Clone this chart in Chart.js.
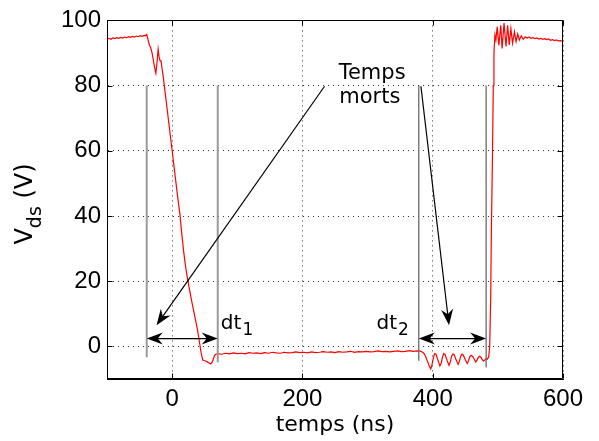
<!DOCTYPE html>
<html><head><meta charset="utf-8">
<script src="https://cdn.jsdelivr.net/npm/chart.js@4.4.1/dist/chart.umd.min.js"></script>
<style>html,body{margin:0;padding:0;background:#fff}canvas{display:block}</style>
</head><body>
<canvas id="c" width="599" height="441"></canvas>
<script>
// ---- data (time in ns, Vds in volts) ----
const timeNs = [
 -100,-97,-94,-91,-88,-85,-82,-79,-76,-73,-70,-67,-64,-61,-58,-55,-52,-49,-46,-43,-41,-39,
 -37,-35,-33,-31,-29,-27,-25,-23.5,-21.5,-20,-18.5,-17,-15.5,-14,-12,-9,-6,-3,0,3,6,9,12,14,16,18,20,22,24,27,30,33,36,39,42,44.5,47,50,53,56,59,61,63,65,67,
 70,76,82,88,94,100,106,112,118,124,130,136,142,148,154,160,166,172,178,184,190,196,202,208,214,220,226,232,238,244,250,256,262,268,274,280,286,292,298,304,310,316,322,328,334,340,346,352,358,364,370,376,382,
 386,389,392,395,397,399,401,403,405,408,411,413,415,417,419,422,425,427,429,431,433,436,439,441,443,445,447,450,453,455,457,459,461,464,466,468,470,472,474,476,478,480,482,484,486,
 487.5,489,490,491.5,493,494,495.5,497,499,501.5,504.5,506.5,509.5,512.5,515,517.5,520,522.5,525.5,528,530.5,533,536,539,542,
 545,548,551,554,557,560,563,566,569,572,575,578,581,584,587,590,593,596,600
];
const vdsVolts = [
 94.3,94.5,94.2,94.6,94.4,94.7,94.5,94.8,94.6,94.9,94.7,95.0,94.8,95.1,94.9,95.2,95.0,95.3,95.1,95.4,95.3,95.7,
 94.0,92.5,91.6,90.2,88.0,85.6,83.8,86.5,91.1,88.8,87.6,87.6,85.2,83.3,80.0,75.0,70.0,65.0,60.0,55.0,50.0,45.0,40.5,36.2,32.2,28.6,25.4,22.7,20.3,17.0,13.9,11.0,8.0,5.0,1.2,-2.0,-4.2,-4.4,-4.6,-5.0,-5.4,-5.0,-4.0,-2.8,-2.4,
 -2.2,-2.4,-2.1,-2.3,-2.0,-2.2,-2.1,-2.3,-1.9,-2.1,-2.0,-2.2,-1.9,-2.1,-1.8,-2.0,-2.1,-1.8,-2.0,-1.9,-1.7,-1.9,-1.8,-2.0,-1.7,-1.9,-1.8,-1.6,-1.8,-1.7,-1.9,-1.6,-1.8,-1.7,-1.5,-1.8,-1.6,-1.7,-1.5,-1.7,-1.6,-1.4,-1.6,-1.5,-1.7,-1.5,-1.4,-1.6,-1.5,-1.3,-1.5,-1.4,-1.5,
 -2.0,-3.0,-4.6,-6.2,-6.9,-5.5,-3.5,-2.2,-2.4,-4.2,-6.0,-5.2,-3.2,-2.2,-2.5,-4.3,-5.8,-4.8,-3.0,-2.3,-2.6,-4.2,-5.5,-4.6,-3.0,-2.4,-2.7,-4.1,-5.2,-4.4,-3.1,-2.7,-3.0,-4.0,-4.8,-4.2,-3.3,-3.0,-3.3,-4.1,-4.5,-4.2,-3.7,-3.9,-3.2,
 0.0,15,35,55,80,90,95.5,94.0,98.0,92.4,98.5,91.4,99.2,92.0,98.5,92.5,97.5,93.0,96.5,93.5,95.8,94.0,95.3,94.2,95.0,
 94.6,94.9,94.5,94.7,94.4,94.6,94.3,94.5,94.2,94.4,94.1,94.3,93.9,94.1,93.8,94.0,93.7,93.8,93.6
];
const xTickValues = [0, 200, 400, 600];
const yTickValues = [0, 20, 40, 60, 80, 100];

// dead-time markers (ns) and the voltage range of each marker line
const markerTimes   = [-39, 70, 378.6, 482];
const markerBottoms = [-3.3, -4.9, -4.4, -6.5];
const markerTop = 80;
// double arrows spanning each dead time
const deadTimeStarts = [-39, 378.6];
const deadTimeEnds   = [70, 482];
const deadTimeLevel  = 2.4;
const deadTimeLabels = ['1', '2'];
// pointer arrows from the "Temps morts" note (data coordinates)
const pointerFrom = [[234, 79.8], [381.9, 79.8]];
const pointerTo   = [[-24, 6.5], [425, 6.5]];

const points = timeNs.map((t, i) => ({x: t, y: vdsVolts[i]}));

function arrowHead(ctx, tx, ty, fx, fy, L, W) {
  const dx = tx - fx, dy = ty - fy, d = Math.hypot(dx, dy);
  const ux = dx / d, uy = dy / d, nx = -uy, ny = ux;
  ctx.beginPath();
  ctx.moveTo(tx, ty);
  ctx.lineTo(tx - L * ux + W * nx, ty - L * uy + W * ny);
  ctx.lineTo(tx - (L - 5) * ux, ty - (L - 5) * uy);
  ctx.lineTo(tx - L * ux - W * nx, ty - L * uy - W * ny);
  ctx.closePath();
  ctx.fill();
}

const annotate = {
  id: 'annotate',
  afterDatasetsDraw(chart) {
    const ctx = chart.ctx, xs = chart.scales.x, ys = chart.scales.y;
    ctx.save();
    markerTimes.forEach((t, i) => {
      const px = xs.getPixelForValue(t);
      ctx.strokeStyle = i < 2 ? '#9a9a9a' : '#6a6a6a';
      ctx.lineWidth = i < 2 ? 2 : 1.3;
      ctx.beginPath();
      ctx.moveTo(px, ys.getPixelForValue(markerTop));
      ctx.lineTo(px, ys.getPixelForValue(markerBottoms[i]));
      ctx.stroke();
    });
    ctx.strokeStyle = '#000'; ctx.fillStyle = '#000'; ctx.lineWidth = 1.2;
    deadTimeStarts.forEach((s, i) => {
      const x1 = xs.getPixelForValue(s), x2 = xs.getPixelForValue(deadTimeEnds[i]);
      const y = ys.getPixelForValue(deadTimeLevel);
      ctx.beginPath(); ctx.moveTo(x1 + 8, y); ctx.lineTo(x2 - 8, y); ctx.stroke();
      arrowHead(ctx, x1, y, x2, y, 16, 6);
      arrowHead(ctx, x2, y, x1, y, 16, 6);
    });
    pointerFrom.forEach((f, i) => {
      const fx = xs.getPixelForValue(f[0]), fy = ys.getPixelForValue(f[1]);
      const tx = xs.getPixelForValue(pointerTo[i][0]), ty = ys.getPixelForValue(pointerTo[i][1]);
      const d = Math.hypot(tx - fx, ty - fy);
      ctx.beginPath(); ctx.moveTo(fx, fy);
      ctx.lineTo(tx - (tx - fx) / d * 10, ty - (ty - fy) / d * 10); ctx.stroke();
      arrowHead(ctx, tx, ty, fx, fy, 16, 6);
    });
    ctx.textBaseline = 'alphabetic';
    ctx.font = '21px "DejaVu Sans"'; ctx.textAlign = 'center';
    ctx.fillText('Temps', xs.getPixelForValue(307), ys.getPixelForValue(82));
    ctx.fillText('morts', xs.getPixelForValue(303.5), ys.getPixelForValue(74.7));
    ctx.textAlign = 'left';
    const labelStarts = [74.8, 313.6];
    labelStarts.forEach((t, i) => {
      const px = xs.getPixelForValue(t), py = ys.getPixelForValue(5.25);
      ctx.font = '20px "DejaVu Sans"';
      ctx.fillText('dt', px, py);
      const w = ctx.measureText('dt').width;
      ctx.font = '17px "DejaVu Sans"';
      ctx.fillText(deadTimeLabels[i], px + w + 1, py + 6);
    });
    ctx.restore();
  },
  afterDraw(chart) {
    const ctx = chart.ctx, a = chart.chartArea, xs = chart.scales.x, ys = chart.scales.y;
    ctx.save();
    ctx.strokeStyle = '#000'; ctx.lineWidth = 1;
    const L = Math.round(a.left) + 0.5, R = Math.round(a.right) - 0.5;
    const T = Math.round(a.top) + 0.5, B = Math.round(a.bottom) - 0.5;
    ctx.beginPath(); ctx.rect(L, T, R - L, B - T); ctx.stroke();
    ctx.beginPath();
    xTickValues.forEach(v => {
      const p = Math.round(xs.getPixelForValue(v)) + 0.5;
      ctx.moveTo(p, B); ctx.lineTo(p, B - 5);
      ctx.moveTo(p, T); ctx.lineTo(p, T + 5);
    });
    yTickValues.forEach(v => {
      const p = Math.round(ys.getPixelForValue(v)) + 0.5;
      ctx.moveTo(L, p); ctx.lineTo(L + 5, p);
      ctx.moveTo(R, p); ctx.lineTo(R - 5, p);
    });
    ctx.stroke();
    // y-axis title with subscript
    ctx.translate(32, 204);
    ctx.rotate(-Math.PI / 2);
    ctx.fillStyle = '#000'; ctx.textAlign = 'left'; ctx.textBaseline = 'alphabetic';
    const big = '24px "DejaVu Sans"', small = '19px "DejaVu Sans"';
    ctx.font = big; const wV = ctx.measureText('V').width; const wU = ctx.measureText(' (V)').width;
    ctx.font = small; const wds = ctx.measureText('ds').width;
    let x = -(wV + wds + wU) / 2;
    ctx.font = big; ctx.fillText('V', x, 0); x += wV;
    ctx.font = small; ctx.fillText('ds', x, 9); x += wds;
    ctx.font = big; ctx.fillText(' (V)', x, 0);
    ctx.restore();
  }
};

new Chart(document.getElementById('c'), {
  type: 'scatter',
  data: { datasets: [{
    data: points, showLine: true, borderColor: '#ff0000', borderWidth: 1.2,
    pointRadius: 0, tension: 0, fill: false
  }]},
  options: {
    responsive: false, animation: false, devicePixelRatio: 1,
    layout: { padding: { top: 17, right: 36, left: 0, bottom: 0 } },
    plugins: { legend: { display: false }, tooltip: { enabled: false } },
    scales: {
      x: {
        type: 'linear', min: -100, max: 600,
        afterBuildTicks: s => { s.ticks = xTickValues.map(v => ({ value: v })); },
        afterFit: s => { s.height = 62; },
        grid: { color: '#333', lineWidth: 1, drawTicks: false },
        border: { display: true, color: '#000', width: 1, dash: [1, 4] },
        ticks: { padding: 6, color: '#000', maxRotation: 0, font: { family: 'Liberation Sans', size: 24 } },
        title: { display: true, text: 'temps (ns)', color: '#000', padding: { top: 0, bottom: 3 },
                 font: { family: 'DejaVu Sans', size: 22 } }
      },
      y: {
        type: 'linear', min: -10, max: 100,
        afterBuildTicks: s => { s.ticks = yTickValues.map(v => ({ value: v })); },
        afterFit: s => { s.width = 107; },
        grid: { color: '#333', lineWidth: 1, drawTicks: false },
        border: { display: true, color: '#000', width: 1, dash: [1, 4] },
        ticks: { padding: 6, color: '#000', font: { family: 'Liberation Sans', size: 24 } }
      }
    }
  },
  plugins: [annotate]
});
</script>
</body></html>
